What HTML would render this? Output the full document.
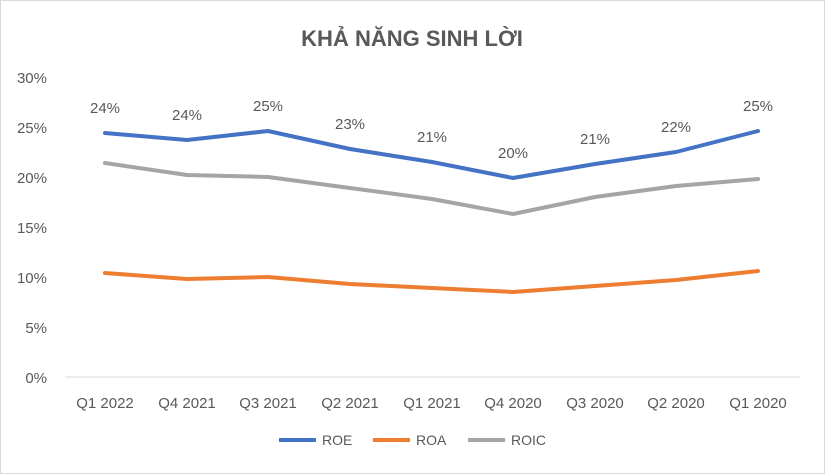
<!DOCTYPE html><html><head><meta charset="utf-8"><style>body{margin:0}svg{display:block}text{font-family:"Liberation Sans","DejaVu Sans",sans-serif;fill:#595959}</style></head><body>
<svg width="825" height="474" viewBox="0 0 825 474" xmlns="http://www.w3.org/2000/svg">
<rect x="0.5" y="0.5" width="824" height="473" fill="#fff" stroke="#d9d9d9"/>
<text x="412" y="46" font-size="22" font-weight="bold" text-anchor="middle">KHẢ NĂNG SINH LỜI</text>
<g font-size="15" text-anchor="end">
<text x="47" y="83">30%</text><text x="47" y="133">25%</text><text x="47" y="183">20%</text><text x="47" y="233">15%</text><text x="47" y="283">10%</text><text x="47" y="333">5%</text><text x="47" y="383">0%</text>
</g>
<line x1="65" y1="377" x2="800" y2="377" stroke="#d9d9d9"/>
<g font-size="15" text-anchor="middle">
<text x="105" y="408">Q1 2022</text><text x="187" y="408">Q4 2021</text><text x="268" y="408">Q3 2021</text><text x="350" y="408">Q2 2021</text><text x="432" y="408">Q1 2021</text><text x="513" y="408">Q4 2020</text><text x="595" y="408">Q3 2020</text><text x="676" y="408">Q2 2020</text><text x="758" y="408">Q1 2020</text>
</g>
<g fill="none" stroke-width="4" stroke-linejoin="round" stroke-linecap="round">
<polyline stroke="#4472c4" points="105,133 187,140 268,131 350,149 432,162 513,178 595,164 676,152 758,131"/>
<polyline stroke="#ed7d31" points="105,273 187,279 268,277 350,284 432,288 513,292 595,286 676,280 758,271"/>
<polyline stroke="#a5a5a5" points="105,163 187,175 268,177 350,188 432,199 513,214 595,197 676,186 758,179"/>
</g>
<g font-size="15" text-anchor="middle">
<text x="105" y="113">24%</text><text x="187" y="120">24%</text><text x="268" y="111">25%</text><text x="350" y="129">23%</text><text x="432" y="142">21%</text><text x="513" y="158">20%</text><text x="595" y="144">21%</text><text x="676" y="132">22%</text><text x="758" y="111">25%</text>
</g>
<g stroke-width="4">
<line x1="279" y1="440" x2="316" y2="440" stroke="#4472c4"/>
<line x1="373" y1="440" x2="410" y2="440" stroke="#ed7d31"/>
<line x1="468" y1="440" x2="505" y2="440" stroke="#a5a5a5"/>
</g>
<g font-size="14">
<text x="322" y="445">ROE</text><text x="416" y="445">ROA</text><text x="511" y="445">ROIC</text>
</g>
</svg></body></html>
